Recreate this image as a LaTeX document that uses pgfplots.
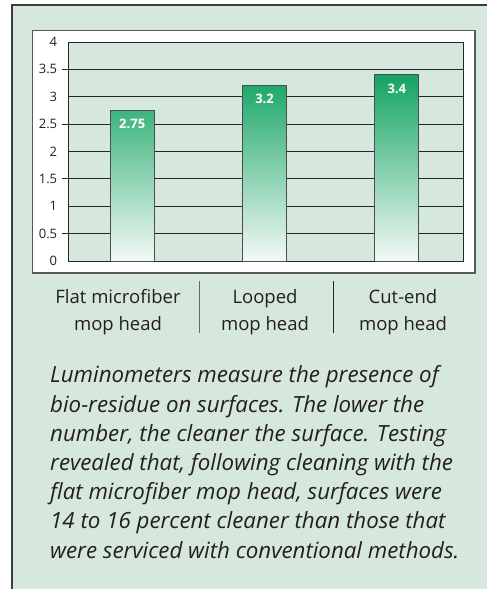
\documentclass[border=0pt]{standalone}
\usepackage{pgfplots}
\pgfplotsset{compat=1.18}
\usepackage{fontspec}
\setmainfont{Open Sans}
\definecolor{panelgreen}{RGB}{214,232,221}
\definecolor{bargreen}{RGB}{18,164,98}
\definecolor{barmid}{RGB}{96,186,139}
\definecolor{barbot}{RGB}{244,249,246}
\definecolor{txt}{RGB}{35,31,32}
\definecolor{frame}{RGB}{60,60,60}
\begin{document}
\begin{tikzpicture}
\useasboundingbox (0,0) rectangle (487bp,-589bp);
\fill[white] (0,0) rectangle (487bp,-589bp);
\fill[panelgreen] (12bp,-5bp) rectangle (487bp,-589bp);
\draw[frame, line width=1.3bp] (12bp,-589bp) -- (12bp,-5bp) -- (487bp,-5bp);
\draw[fill=white, draw=black!65, line width=1.2bp] (32.5bp,-30.5bp) rectangle (475bp,-273bp);
\begin{axis}[
  at={(68.7bp,-261bp)}, anchor=south west,
  scale only axis, width=394.3bp, height=219bp,
  xmin=-0.48, xmax=2.5, ymin=0, ymax=4,
  ytick={0,0.5,1,1.5,2,2.5,3,3.5,4},
  yticklabels={0,0.5,1,1.5,2,2.5,3,3.5,4},
  minor ytick={0.5,1.5,2.5,3.5},
  ytick pos=left,
  xtick=\empty,
  ymajorgrids,
  grid style={black!85, line width=0.9bp},
  major tick length=0pt,
  minor tick length=6.5bp,
  tick align=outside,
  minor tick style={black!85, line width=0.9bp},
  axis background/.style={fill=panelgreen},
  axis line style={black!85, line width=1bp},
  yticklabel style={font=\fontsize{13bp}{15bp}\selectfont, text=txt, xshift=-8bp},
  ybar, bar width=44bp,
  nodes near coords,
  point meta=explicit symbolic,
  nodes near coords style={anchor=north, yshift=-5bp, text=white, font=\fontsize{13bp}{15bp}\selectfont\bfseries},
  /pgf/number format/assume math mode=true,
]
\addplot[draw=black!70, line width=0.9bp, top color=bargreen, middle color=barmid, bottom color=barbot]
  coordinates {(0,2.75) [2.75] (1,3.2) [3.2] (2,3.4) [3.4]};
\end{axis}
\draw[black!60, line width=1bp] (199bp,-281bp) -- (199bp,-333bp);
\draw[black!85, line width=1bp] (333bp,-281bp) -- (333bp,-333bp);
\begin{scope}[every node/.style={anchor=base, text=txt, font=\fontsize{18.5bp}{22bp}\selectfont, inner sep=0pt}]
\node at (118bp,-303bp) {Flat microfiber};
\node at (118bp,-330bp) {mop head};
\node at (265bp,-303bp) {Looped};
\node at (265bp,-330bp) {mop head};
\node at (403bp,-303bp) {Cut-end};
\node at (403bp,-330bp) {mop head};
\end{scope}
\node[anchor=base west, inner sep=0pt, text=txt, align=left, font=\fontsize{22.3bp}{29.2bp}\selectfont\itshape] at (50bp,-558bp)
{Luminometers measure the presence of\\
bio-residue on surfaces. The lower the\\
number, the cleaner the surface. Testing\\
revealed that, following cleaning with the\\
flat microfiber mop head, surfaces were\\
14 to 16 percent cleaner than those that\\
were serviced with conventional methods.};
\end{tikzpicture}
\end{document}
